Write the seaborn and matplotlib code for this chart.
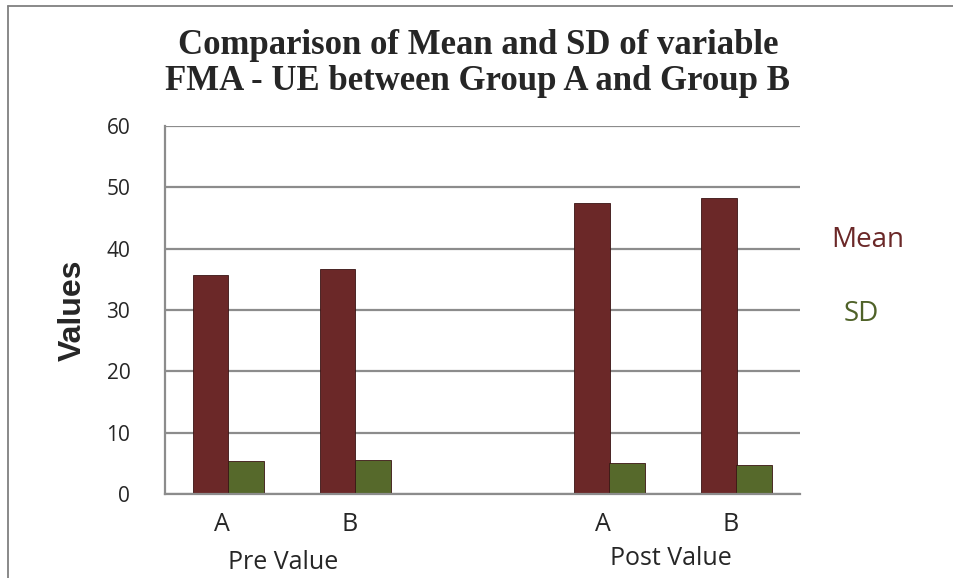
import numpy as np
import pandas as pd
import matplotlib
matplotlib.use("Agg")
import matplotlib.pyplot as plt
import matplotlib.transforms as mtransforms
import seaborn as sns

# data
slots = ["Pre A", "Pre B", "gap", "Post A", "Post B"]
groups = ["Pre A", "Pre B", "Post A", "Post B"]
tick_labels = ["A", "B", "", "A", "B"]
mean_values = [35.7, 36.7, 47.4, 48.3]
sd_values = [5.4, 5.5, 5.0, 4.7]
phase_labels = ["Pre Value", "Post Value"]

df = pd.DataFrame({
    "slot": groups * 2,
    "stat": ["Mean"] * 4 + ["SD"] * 4,
    "value": mean_values + sd_values,
})

mean_color = "#6b2828"
sd_color = "#56692b"
grid_color = "#8c8c8c"

sns.set_style("white")

fig = plt.figure(figsize=(9.54, 5.78), dpi=100)
ax = fig.add_axes([165 / 954, 1 - 494 / 578, 635 / 954, 368 / 578])

sns.barplot(
    data=df,
    x="slot",
    y="value",
    hue="stat",
    order=slots,
    hue_order=["Mean", "SD"],
    palette=[mean_color, sd_color],
    width=0.56,
    gap=0,
    saturation=1,
    edgecolor="#3a1414",
    linewidth=0.6,
    ax=ax,
)
ax.legend_.remove()

ax.set_xlim(-0.5, 4.5)
ax.set_ylim(0, 60)
ax.set_yticks(np.arange(0, 61, 10))
ax.yaxis.grid(True, color=grid_color, linewidth=1.6)
ax.set_axisbelow(True)

for side in ["top", "right"]:
    ax.spines[side].set_visible(False)
for side in ["left", "bottom"]:
    ax.spines[side].set_color(grid_color)
    ax.spines[side].set_linewidth(1.6)

ax.tick_params(axis="y", length=8, width=1.6, color=grid_color,
               labelsize=15, pad=17)
ax.tick_params(axis="x", length=0, labelsize=18, pad=13)
ax.set_xticks(np.arange(len(slots)) - 0.05)
ax.set_xticklabels(tick_labels)
for lab in ax.get_xticklabels() + ax.get_yticklabels():
    lab.set_fontfamily("Open Sans")

ax.set_xlabel("")
ax.set_ylabel("Values", fontsize=23, fontweight="bold",
              fontfamily="Liberation Sans")
ax.yaxis.set_label_coords(-0.121, 0.5)

trans = mtransforms.blended_transform_factory(ax.transData, ax.transAxes)
ax.text(0.43, -0.185, phase_labels[0], transform=trans, ha="center",
        va="center", fontsize=18, fontfamily="Open Sans")
ax.text(3.48, -0.175, phase_labels[1], transform=trans, ha="center",
        va="center", fontsize=18, fontfamily="Open Sans")

# legend as coloured text on the right
fig.text(868 / 954, 1 - 240 / 578, "Mean", color=mean_color, fontsize=20,
         fontfamily="Open Sans", ha="center", va="center")
fig.text(861 / 954, 1 - 314 / 578, "SD", color="#4f6228", fontsize=20,
         fontfamily="Open Sans", ha="center", va="center")

fig.text(478 / 954, 1 - 63 / 578,
         "Comparison of Mean and SD of variable\nFMA - UE between Group A and Group B",
         ha="center", va="center", fontsize=25, fontweight="bold",
         fontfamily="Liberation Serif", linespacing=1.12)

# outer chart frame (top and left edge visible)
fig.add_artist(plt.Line2D([8.5 / 954, 1], [1 - 6 / 578, 1 - 6 / 578],
                          transform=fig.transFigure, color="#808080", lw=1.3))
fig.add_artist(plt.Line2D([8.5 / 954, 8.5 / 954], [0, 1 - 6 / 578],
                          transform=fig.transFigure, color="#808080", lw=1.3))

fig.savefig("out.png", dpi=100)
